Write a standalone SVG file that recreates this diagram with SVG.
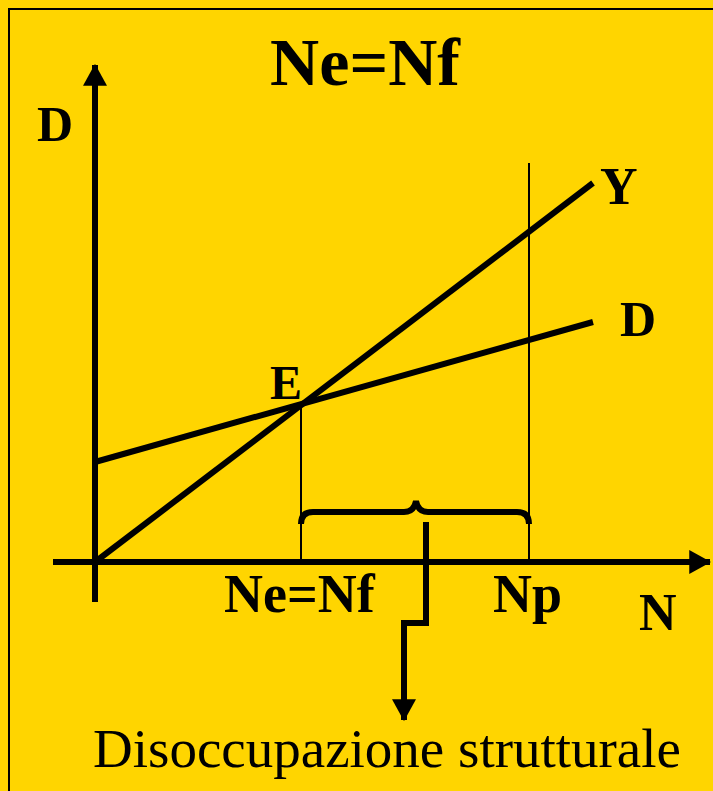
<svg xmlns="http://www.w3.org/2000/svg" width="713" height="791" viewBox="0 0 713 791">
<defs>
<style>
.bold{font-family:"Liberation Serif","Times New Roman",serif;font-weight:bold;fill:#000}
.reg{font-family:"Liberation Serif","Times New Roman",serif;fill:#000}
.thick{stroke:#000;stroke-width:6;fill:none}
.thin{stroke:#000;stroke-width:2;fill:none}
</style>
<marker id="ah" viewBox="0 0 20 22" refX="19" refY="11" markerWidth="22" markerHeight="24" markerUnits="userSpaceOnUse" orient="auto">
<path d="M0,0 L20,11 L0,22 Z" fill="#000"/>
</marker>
</defs>
<rect x="0" y="0" width="713" height="791" fill="#FFD500"/>
<rect x="9" y="9" width="720" height="800" fill="none" stroke="#000" stroke-width="2"/>
<g id="title"><text class="bold" x="365" y="85" font-size="68" text-anchor="middle">Ne=Nf</text></g>
<g id="connectors">
<line class="thick" x1="95" y1="602" x2="95" y2="65" marker-end="url(#ah)"/>
<line class="thick" x1="53" y1="562" x2="710" y2="562" marker-end="url(#ah)"/>
<line class="thick" x1="95" y1="562" x2="593" y2="183" stroke-width="7.5"/>
<line class="thick" x1="95" y1="462" x2="593" y2="322" stroke-width="6.5"/>
<line class="thin" x1="301" y1="403" x2="301" y2="562"/>
<line class="thin" x1="529" y1="163" x2="529" y2="562"/>
<path class="thick" d="M301,524 Q301,512 313,512 L404,512 Q414,512 416,501 Q418,512 428,512 L517,512 Q529,512 529,524" stroke-width="5"/>
<path class="thick" d="M426,522 L426,623 L404,623 L404,720" stroke-width="5" stroke-linejoin="miter" marker-end="url(#ah)"/>
</g>
<g id="labels">
<text class="bold" x="37" y="141" font-size="50">D</text>
<text class="bold" x="600" y="204" font-size="52">Y</text>
<text class="bold" x="620" y="336" font-size="50">D</text>
<text class="bold" x="270" y="399" font-size="48">E</text>
<text class="bold" x="224" y="612" font-size="54">Ne=Nf</text>
<text class="bold" x="493" y="612" font-size="54">Np</text>
<text class="bold" x="639" y="630" font-size="52">N</text>
<text class="reg" x="93" y="767" font-size="55">Disoccupazione strutturale</text>
</g>
</svg>
